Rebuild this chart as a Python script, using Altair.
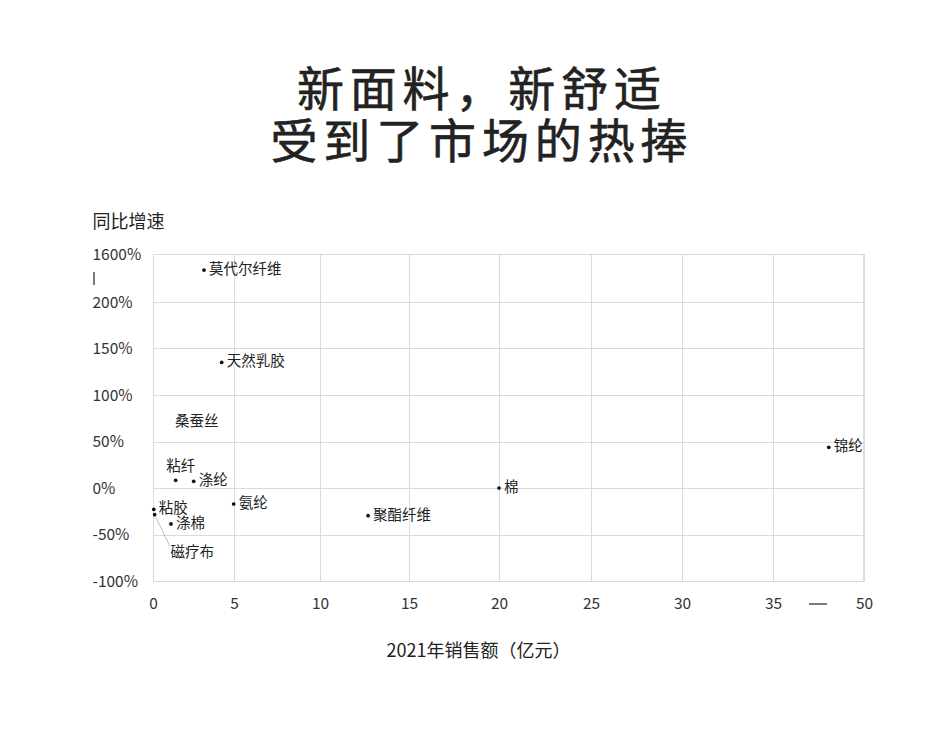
import altair as alt
import pandas as pd

# ---- data ----
names = ["莫代尔纤维", "天然乳胶", "粘纤", "涤纶", "氨纶", "粘胶", "磁疗布", "涤棉", "聚酯纤维", "棉", "锦纶"]
sales = [3.15, 4.24, 1.40, 2.51, 4.98, 0.05, 0.10, 1.11, 12.7, 20.0, 44.2]
growth = [1133, 135, 8.3, 7.2, -17.2, -22.9, -28.7, -38.7, -29.8, 0.0, 43.8]

label_only_names = ["桑蚕丝"]
label_only_sales = [2.7]
label_only_growth = [71]

x_ticks = [0, 5, 10, 15, 20, 25, 30, 35, 50]
y_ticks = [-100, -50, 0, 50, 100, 150, 200, 1600]

title_lines = ["新面料，新舒适", "受到了市场的热捧"]
x_title = "2021年销售额（亿元）"
y_title = "同比增速"

FONT = "Noto Sans CJK SC"
W, H = 710, 327

df = pd.DataFrame({"name": names, "sales": sales, "growth": growth})
df_lab = pd.DataFrame({"name": label_only_names, "sales": label_only_sales, "growth": label_only_growth})

ABOVE = ["粘纤"]
BELOW = ["磁疗布"]

xscale = alt.Scale(domain=x_ticks, range=[0, 81, 167, 256, 346, 438, 529, 620, 711], nice=False, zero=False)
yscale = alt.Scale(domain=[-100, 200, 1600], range=[H, 48, 0], nice=False, zero=False)

xenc = alt.X(
    "sales:Q", scale=xscale,
    axis=alt.Axis(
        values=x_ticks, grid=True, gridColor="#dadada", domain=False, ticks=False, tickSize=0,
        labelPadding=15, labelFontSize=15.5, labelColor="#333333", labelFont=FONT,
        labelOverlap=False, labelFlush=False,
        title=x_title, titleFont=FONT, titleFontSize=18, titleFontWeight="normal", titleColor="#222222",
        titleX=325, titleY=70, titleAnchor="start", titleAlign="center", titleBaseline="middle",
    ),
)
yenc = alt.Y(
    "growth:Q", scale=yscale,
    axis=alt.Axis(
        values=y_ticks, grid=True, gridColor="#dadada", domain=False, ticks=False, tickSize=0,
        labelPadding=61, labelAlign="left", labelBaseline="middle",
        labelFontSize=15.5, labelColor="#333333", labelFont=FONT,
        labelOverlap=False, labelFlush=False, labelExpr="datum.value + '%'",
        title=y_title, titleFont=FONT, titleFontSize=18, titleFontWeight="normal", titleColor="#222222",
        titleAngle=0, titleX=-61, titleY=-32, titleAlign="left", titleBaseline="middle",
    ),
)

base = alt.Chart(df)

dots = base.mark_circle(size=14, color="#111111", opacity=1).encode(x=xenc, y=yenc)

right_labels = base.transform_filter(
    ~alt.FieldOneOfPredicate(field="name", oneOf=ABOVE + BELOW)
).mark_text(align="left", baseline="middle", dx=5, font=FONT, fontSize=14.5, color="#222222").encode(
    x="sales:Q", y="growth:Q", text="name:N"
)

above_labels = base.transform_filter(
    alt.FieldOneOfPredicate(field="name", oneOf=ABOVE)
).mark_text(align="center", baseline="middle", dx=5, dy=-13, font=FONT, fontSize=14.5, color="#222222").encode(
    x="sales:Q", y="growth:Q", text="name:N"
)

below_labels = base.transform_filter(
    alt.FieldOneOfPredicate(field="name", oneOf=BELOW)
).mark_text(align="left", baseline="middle", dx=16, dy=38, font=FONT, fontSize=14.5, color="#222222").encode(
    x="sales:Q", y="growth:Q", text="name:N"
)

leader = base.transform_filter(
    alt.FieldOneOfPredicate(field="name", oneOf=BELOW)
).mark_rule(color="#aaaaaa", strokeWidth=0.8, xOffset=1, yOffset=2, x2Offset=15, y2Offset=31).encode(
    x="sales:Q", y="growth:Q", x2="sales:Q", y2="growth:Q"
)

lab_only = alt.Chart(df_lab).mark_text(
    align="center", baseline="middle", font=FONT, fontSize=14.5, color="#222222"
).encode(x="sales:Q", y="growth:Q", text="name:N")

spaced = ["\u200a\u200a".join(list(t)) for t in title_lines]
tdf = pd.DataFrame({"t": spaced, "i": [0, 1]})
title1 = alt.Chart(tdf).transform_filter("datum.i == 0").mark_text(
    font=FONT, fontSize=47, fontWeight="normal", color="#222222", stroke="#222222", strokeWidth=0.6,
    align="center", baseline="middle"
).encode(text="t:N", x=alt.value(326), y=alt.value(-162))
title2 = alt.Chart(tdf).transform_filter("datum.i == 1").mark_text(
    font=FONT, fontSize=47, fontWeight="normal", color="#222222", stroke="#222222", strokeWidth=0.6,
    align="center", baseline="middle"
).encode(text="t:N", x=alt.value(326), y=alt.value(-110))

ybreak = alt.Chart(tdf).transform_filter("datum.i == 0").mark_rule(
    color="#333333", strokeWidth=1.3
).encode(x=alt.value(-59), y=alt.value(18), y2=alt.value(31))
xbreak = alt.Chart(tdf).transform_filter("datum.i == 0").mark_rule(
    color="#333333", strokeWidth=1.3
).encode(x=alt.value(656), x2=alt.value(674), y=alt.value(350))

chart = alt.layer(
    dots, leader, right_labels, above_labels, below_labels, lab_only, title1, title2, ybreak, xbreak
).properties(
    width=W, height=H,
    padding={"left": 145, "top": 246, "right": 70, "bottom": 130},
    autosize=alt.AutoSizeParams(type="none"),
).configure_view(stroke="#d4d4d4", strokeWidth=1).configure(background="white")

chart.save("out.html", embed_options={"renderer": "svg", "actions": False})
